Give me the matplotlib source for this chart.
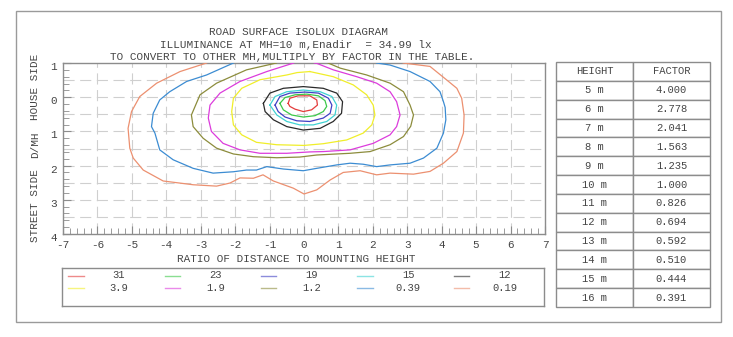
#!/usr/bin/env python
"""plot.py - road surface isolux diagram with mounting height factor table"""
import matplotlib
matplotlib.use('Agg')
import matplotlib.pyplot as plt
import matplotlib.transforms as mtransforms
from matplotlib.patches import Rectangle
from matplotlib.ticker import MultipleLocator

plt.rcParams['font.family'] = ['Liberation Mono', 'DejaVu Sans Mono']
plt.rcParams['axes.unicode_minus'] = False

TEXT = '#454545'
EDGE = '#8c8c8c'
GRID = '#cfcfcf'

# isolux levels (lx) and line colours
levels = ['31', '23', '19', '15', '12', '3.9', '1.9', '1.2', '0.39', '0.19']
level_colors = ['#e43c3c', '#3cc84a', '#4040c4', '#40d2d2', '#2a2a2a',
                '#f0ee2a', '#dc3cdc', '#8c8c3c', '#3c8cd2', '#ec9070']

# isolux traces: x = transverse distance / MH, y = D/MH (house side < 0)
x_31 = [-0.46, -0.41, -0.17, 0.17, 0.37, 0.39, 0.22, -0.02, -0.26, -0.41]
y_31 = [0.18, 0.03, -0.04, -0.04, 0.08, 0.23, 0.37, 0.42, 0.35, 0.27]

x_23 = [-0.70, -0.55, -0.26, 0.08, 0.42, 0.61, 0.66, 0.56, 0.32, -0.02, -0.36, -0.60]
y_23 = [0.18, 0.01, -0.07, -0.09, -0.04, 0.10, 0.27, 0.42, 0.54, 0.58, 0.52, 0.37]

x_19 = [-0.84, -0.70, -0.41, 0.03, 0.42, 0.71, 0.81, 0.76, 0.56, 0.17, -0.21, -0.55, -0.75]
y_19 = [0.23, -0.02, -0.12, -0.15, -0.12, 0.03, 0.23, 0.47, 0.61, 0.71, 0.69, 0.58, 0.42]

x_15 = [-0.99, -0.84, -0.50, -0.02, 0.47, 0.81, 0.95, 0.90, 0.66, 0.27, -0.12, -0.50, -0.79]
y_15 = [0.23, -0.02, -0.16, -0.21, -0.16, -0.02, 0.23, 0.52, 0.71, 0.81, 0.81, 0.71, 0.52]

x_12 = [-1.18, -0.99, -0.60, -0.02, 0.56, 0.95, 1.12, 1.09, 0.85, 0.47, -0.02, -0.50, -0.89, -1.13]
y_12 = [0.18, -0.12, -0.26, -0.31, -0.26, -0.12, 0.13, 0.47, 0.71, 0.91, 0.96, 0.86, 0.66, 0.42]

x_3_9 = [0.17, 0.85, 1.43, 1.82, 2.01, 2.06, 1.97, 1.72, 1.24, 0.56, 0.00,
         -0.79, -1.38, -1.81, -2.05, -2.10, -2.05, -1.81, -1.28, -0.50, -0.20]
y_3_9 = [-0.75, -0.60, -0.36, -0.07, 0.23, 0.52, 0.81, 1.05, 1.25, 1.36, 1.41,
         1.39, 1.32, 1.10, 0.81, 0.42, 0.03, -0.26, -0.51, -0.65, -0.72]

x_1_9 = [-0.30, -1.08, -1.86, -2.44, -2.73, -2.78, -2.69, -2.35, -1.86, -1.28,
         -0.50, 0.17, 0.56, 1.34, 2.01, 2.50, 2.69, 2.79, 2.69, 2.50, 2.11,
         1.53, 0.85, 0.37, 0.30]
y_1_9 = [-1.00, -0.75, -0.46, -0.12, 0.23, 0.61, 1.00, 1.35, 1.54, 1.64,
         1.64, 1.60, 1.59, 1.54, 1.35, 1.10, 0.86, 0.52, 0.13, -0.16, -0.41,
         -0.60, -0.80, -0.99, -1.00]

x_1_2 = [-0.80, -1.67, -2.54, -3.02, -3.27, -3.22, -2.93, -2.54, -2.05, -1.47,
         -0.79, -0.12, 0.37, 1.34, 1.92, 2.50, 2.89, 3.10, 3.18, 3.08, 2.89,
         2.50, 1.82, 1.05, 0.70]
y_1_2 = [-1.00, -0.80, -0.41, -0.07, 0.52, 0.86, 1.20, 1.49, 1.66, 1.74,
         1.77, 1.75, 1.69, 1.64, 1.59, 1.39, 1.15, 0.85, 0.52, 0.23, -0.16,
         -0.41, -0.65, -0.85, -1.00]

x_0_39 = [-2.05, -2.83, -3.41, -3.90, -4.19, -4.38, -4.43, -4.33, -4.19, -3.80,
          -3.22, -2.64, -2.05, -1.67, -1.38, -1.08, -0.60, -0.02, 0.37, 0.95,
          1.34, 1.72, 2.11, 2.50, 3.08, 3.47, 3.86, 4.05, 4.12, 4.10, 4.05,
          3.95, 3.66, 3.08, 2.50, 2.11]
y_0_39 = [-1.00, -0.65, -0.46, -0.16, 0.08, 0.47, 0.86, 1.05, 1.54, 1.83,
          2.08, 2.22, 2.18, 2.13, 2.13, 2.03, 2.10, 2.15, 2.08, 1.98,
          1.93, 1.96, 2.03, 1.98, 1.93, 1.78, 1.49, 1.05, 0.66, 0.30, 0.13,
          -0.16, -0.46, -0.75, -0.94, -1.00]

x_0_19 = [-2.83, -3.60, -4.28, -4.77, -5.01, -5.11, -5.06, -4.96, -4.67, -4.09,
          -3.22, -2.54, -2.15, -1.86, -1.47, -1.19, -0.89, -0.31, 0.00, 0.37,
          0.76, 1.14, 1.63, 2.11, 2.50, 3.18, 3.66, 4.05, 4.44, 4.63, 4.65,
          4.58, 4.44, 4.15, 3.66, 2.88]
y_0_19 = [-1.00, -0.75, -0.41, -0.02, 0.42, 0.91, 1.49, 1.78, 2.13, 2.45,
          2.56, 2.60, 2.51, 2.36, 2.37, 2.27, 2.45, 2.66, 2.83, 2.71,
          2.42, 2.20, 2.15, 2.27, 2.22, 2.25, 2.17, 1.93, 1.59, 1.05, 0.52,
          0.03, -0.26, -0.50, -0.90, -1.00]

traces = [(x_31, y_31, True), (x_23, y_23, True), (x_19, y_19, True),
          (x_15, y_15, True), (x_12, y_12, True), (x_3_9, y_3_9, True),
          (x_1_9, y_1_9, False), (x_1_2, y_1_2, False),
          (x_0_39, y_0_39, False), (x_0_19, y_0_19, False)]

# mounting height conversion table
heights = ['5 m', '6 m', '7 m', '8 m', '9 m', '10 m', '11 m', '12 m',
           '13 m', '14 m', '15 m', '16 m']
factors = ['4.000', '2.778', '2.041', '1.563', '1.235', '1.000', '0.826',
           '0.694', '0.592', '0.510', '0.444', '0.391']

titles = ['ROAD SURFACE ISOLUX DIAGRAM',
          'ILLUMINANCE AT MH=10 m,Enadir  = 34.99 lx',
          'TO CONVERT TO OTHER MH,MULTIPLY BY FACTOR IN THE TABLE.']

W, H = 733, 337


def box(x0, y0, x1, y1):
    """Pixel box (top-left origin) -> figure fraction rect"""
    return [x0 / W, 1 - y1 / H, (x1 - x0) / W, (y1 - y0) / H]


fig = plt.figure(figsize=(W / 100, H / 100), dpi=100)
fig.add_artist(Rectangle((16 / W, 1 - 322 / H), 705 / W, 311 / H,
                         transform=fig.transFigure, fill=False,
                         edgecolor='#9a9a9a', lw=1.0))

# titles
for txt, xc, yc in zip(titles, [298, 296, 292], [32, 44.5, 57]):
    fig.text(xc / W, 1 - yc / H, txt, ha='center', va='center',
             fontsize=7.9, color=TEXT)

# isolux plot
ax = fig.add_axes(box(63, 63, 545, 234))
for (xs, ys, closed), c in zip(traces, level_colors):
    if closed:
        xs = xs + xs[:1]
        ys = ys + ys[:1]
    ax.plot(xs, ys, color=c, lw=0.9, zorder=3)

ax.set_xlim(-7, 7)
ax.set_ylim(4, -1)
ax.set_xticks(range(-7, 8))
ax.set_xticklabels([str(v) for v in range(-7, 8)])
ax.set_yticks(range(-1, 5))
ax.set_yticklabels([str(abs(v)) for v in range(-1, 5)])
ax.xaxis.set_minor_locator(MultipleLocator(0.2))
ax.yaxis.set_minor_locator(MultipleLocator(0.2))
ax.tick_params(which='both', direction='in', color=EDGE, labelsize=7.9,
               labelcolor=TEXT, top=False, right=False)
ax.tick_params(which='major', length=6, pad=4.5)
ax.tick_params(which='minor', length=4)
offset = mtransforms.ScaledTranslation(0, -3 / 100, fig.dpi_scale_trans)
for lab in ax.get_yticklabels():
    lab.set_transform(lab.get_transform() + offset)
for s in ax.spines.values():
    s.set_color(EDGE)
    s.set_linewidth(1.0)
for xv in range(-6, 7):
    ax.axvline(xv, color=GRID, lw=0.8, ls=(0, (10, 5)), zorder=1)
for k in range(1, 10):
    ax.axhline(-1 + 0.5 * k, color=GRID, lw=0.8, ls=(0, (10, 5)), zorder=1)

fig.text(296 / W, 1 - 259 / H, 'RATIO OF DISTANCE TO MOUNTING HEIGHT',
         ha='center', va='center', fontsize=7.9, color=TEXT)
fig.text(35 / W, 1 - 87 / H, 'HOUSE SIDE', rotation=90, ha='center',
         va='center', fontsize=7.9, color=TEXT)
fig.text(35 / W, 1 - 145 / H, 'D/MH', rotation=90, ha='center',
         va='center', fontsize=7.9, color=TEXT)
fig.text(35 / W, 1 - 206 / H, 'STREET SIDE', rotation=90, ha='center',
         va='center', fontsize=7.9, color=TEXT)

# legend panel: two rows of five levels
lg = fig.add_axes(box(62, 268, 544, 306))
lg.set_xlim(0, 5)
lg.set_ylim(38, 0)
lg.set_xticks([])
lg.set_yticks([])
for s in lg.spines.values():
    s.set_color(EDGE)
    s.set_linewidth(1.0)
for i, (lev, c) in enumerate(zip(levels, level_colors)):
    col, row = i % 5, i // 5
    yy = 7.5 if row == 0 else 20
    lg.plot([col + 0.065, col + 0.225], [yy, yy], color=c, lw=1.0, alpha=0.6)
    lg.text(col + 0.59, yy, lev, ha='center', va='center', fontsize=7.6,
            color=TEXT)

# mounting height factor table
tb = fig.add_axes(box(556, 62, 710, 307))
tb.axis('off')
rows = [[h, f] for h, f in zip(heights, factors)]
table = tb.table(cellText=rows, colLabels=['HEIGHT', 'FACTOR'],
                 cellLoc='center', bbox=[0, 0, 1, 1])
table.auto_set_font_size(False)
table.set_fontsize(7.6)
for cell in table.get_celld().values():
    cell.set_edgecolor(EDGE)
    cell.set_linewidth(1.0)
    cell.get_text().set_color(TEXT)
    cell.get_text().set_fontfamily(['Liberation Mono', 'DejaVu Sans Mono'])

fig.savefig('out.png', dpi=100)
plt.close()
